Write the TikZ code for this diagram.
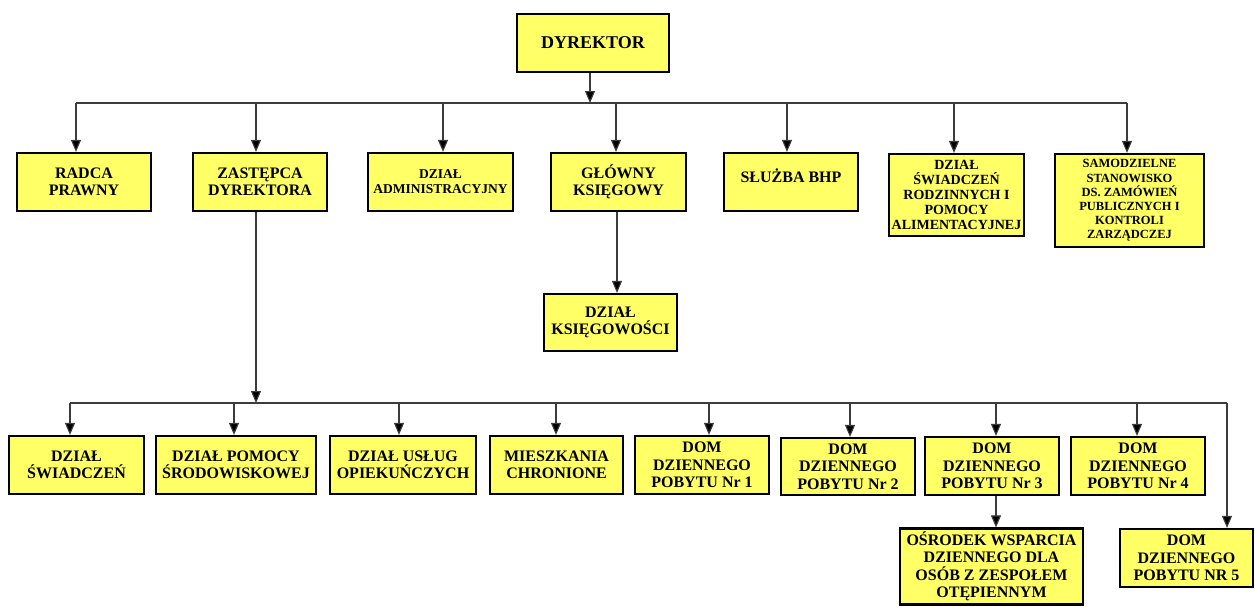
\documentclass[tikz,border=0pt]{standalone}
\usepackage{fontspec}
\setmainfont{Liberation Serif}
\usetikzlibrary{arrows.meta}
\definecolor{boxyellow}{RGB}{255,255,102}
\definecolor{linegray}{RGB}{60,60,60}
\tikzset{
  box/.style={draw=black, line width=2.2pt, fill=boxyellow, inner sep=1pt, align=center,
    font=\bfseries\fontsize{16}{17.5}\selectfont},
  bx/.style n args={2}{box, minimum width=#1, minimum height=#2},
  arr/.style={draw=linegray, line width=1.1pt, -{Triangle[width=10pt,length=12pt,fill=black]}},
  ln/.style={draw=linegray, line width=1.1pt}
}
\begin{document}
\begin{tikzpicture}[x=1pt,y=-1pt]
\useasboundingbox (0,0) rectangle (1255,606);
% top level
\node[bx={152pt}{58pt}, font=\bfseries\fontsize{18}{20}\selectfont] (dyr) at (593,43) {DYREKTOR};
% row 1
\node[bx={134pt}{58pt}] (radca) at (84,182) {RADCA\\PRAWNY};
\node[bx={134pt}{58pt}] (zast) at (260,182) {ZASTĘPCA\\DYREKTORA};
\node[bx={145pt}{58pt}, font=\bfseries\fontsize{13.5}{15}\selectfont] (admin) at (440.5,182) {DZIAŁ\\ADMINISTRACYJNY};
\node[bx={135pt}{58pt}] (glowny) at (618.5,182) {GŁÓWNY\\KSIĘGOWY};
\node[bx={134pt}{58pt}] (bhp) at (791,182) {SŁUŻBA BHP\\[-5pt]\mbox{}};
\node[bx={135pt}{82pt}, font=\bfseries\fontsize{14}{15}\selectfont] (swiad) at (956.5,195) {DZIAŁ\\ŚWIADCZEŃ\\RODZINNYCH I\\POMOCY\\ALIMENTACYJNEJ};
\node[bx={149pt}{93pt}, font=\bfseries\fontsize{12.5}{14.2}\selectfont] (samo) at (1129.5,200.5) {SAMODZIELNE\\STANOWISKO\\DS. ZAMÓWIEŃ\\PUBLICZNYCH I\\KONTROLI\\ZARZĄDCZEJ};
\node[bx={133pt}{57pt}] (ksieg) at (610.5,322.5) {DZIAŁ\\KSIĘGOWOŚCI};
% row 2
\node[bx={135pt}{58pt}] (dsw) at (76.5,465) {DZIAŁ\\ŚWIADCZEŃ};
\node[bx={160pt}{58pt}] (dpo) at (236,465) {DZIAŁ POMOCY\\ŚRODOWISKOWEJ};
\node[bx={146pt}{58pt}] (duo) at (403,465) {DZIAŁ USŁUG\\OPIEKUŃCZYCH};
\node[bx={133pt}{58pt}] (mch) at (556.5,465) {MIESZKANIA\\CHRONIONE};
\node[bx={134pt}{58pt}] (d1) at (702,465) {DOM\\DZIENNEGO\\POBYTU Nr 1};
\node[bx={134pt}{57pt}] (d2) at (848,466.5) {DOM\\DZIENNEGO\\POBYTU Nr 2};
\node[bx={134pt}{58pt}] (d3) at (992,466) {DOM\\DZIENNEGO\\POBYTU Nr 3};
\node[bx={134pt}{58pt}] (d4) at (1138,466) {DOM\\DZIENNEGO\\POBYTU Nr 4};
\node[bx={133pt}{58pt}] (d5) at (1186.5,558) {DOM\\DZIENNEGO\\POBYTU NR 5};
\node[bx={183pt}{76pt}] (osr) at (991.5,566.5) {OŚRODEK WSPARCIA\\DZIENNEGO DLA\\OSÓB Z ZESPOŁEM\\OTĘPIENNYM};
% top bus
\coordinate (tb) at (590,103);
\coordinate (tL) at (76,103);
\coordinate (tR) at (1127,103);
\draw[arr] (dyr.south -| tb) -- (tb);
\draw[ln] (tL) -- (tR);
\coordinate (t1) at (76,103);
\coordinate (t2) at (256,103);
\coordinate (t3) at (443,103);
\coordinate (t4) at (616,103);
\coordinate (t5) at (787,103);
\coordinate (t6) at (954,103);
\coordinate (t7) at (1127,103);
\draw[arr] (t1) -- (t1 |- radca.north);
\draw[arr] (t2) -- (t2 |- zast.north);
\draw[arr] (t3) -- (t3 |- admin.north);
\draw[arr] (t4) -- (t4 |- glowny.north);
\draw[arr] (t5) -- (t5 |- bhp.north);
\draw[arr] (t6) -- (t6 |- swiad.north);
\draw[arr] (t7) -- (t7 |- samo.north);
% glowny -> ksiegowosc
\coordinate (gk) at (617,0);
\draw[arr] (gk |- glowny.south) -- (gk |- ksieg.north);
% bottom bus
\coordinate (bb) at (256,403);
\draw[arr] (bb |- zast.south) -- (bb);
\coordinate (bL) at (70,403);
\coordinate (bR) at (1227,403);
\draw[ln] (bL) -- (bR);
\coordinate (s1) at (70,403);
\coordinate (s2) at (234,403);
\coordinate (s3) at (399,403);
\coordinate (s4) at (556,403);
\coordinate (s5) at (709,403);
\coordinate (s6) at (850,403);
\coordinate (s7) at (996,403);
\coordinate (s8) at (1137,403);
\draw[arr] (s1) -- (s1 |- dsw.north);
\draw[arr] (s2) -- (s2 |- dpo.north);
\draw[arr] (s3) -- (s3 |- duo.north);
\draw[arr] (s4) -- (s4 |- mch.north);
\draw[arr] (s5) -- (s5 |- d1.north);
\draw[arr] (s6) -- (s6 |- d2.north);
\draw[arr] (s7) -- (s7 |- d3.north);
\draw[arr] (s8) -- (s8 |- d4.north);
\draw[arr] (bR) -- (bR |- d5.north);
\coordinate (d3o) at (996,0);
\draw[arr] (d3o |- d3.south) -- (d3o |- osr.north);
\end{tikzpicture}
\end{document}
